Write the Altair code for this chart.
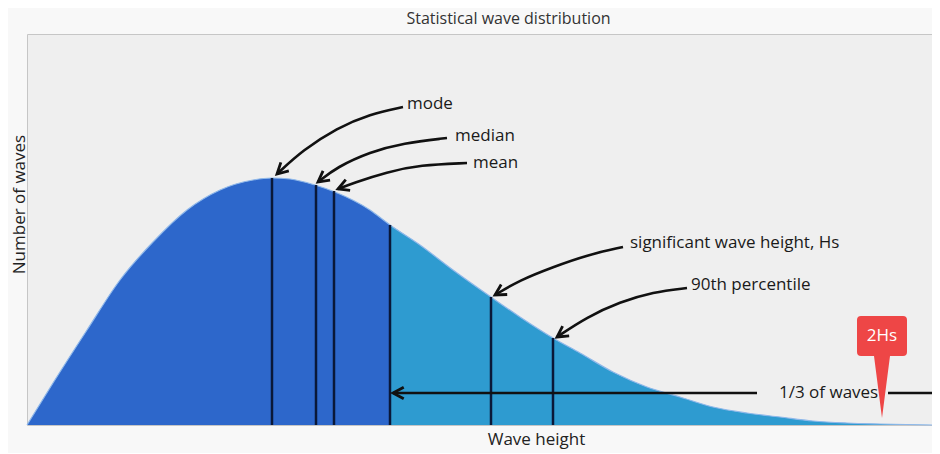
import altair as alt
import pandas as pd

# ---- data (x: wave height, y: number of waves, arbitrary units)
curve_x = [0, 26, 60, 93, 126, 160, 193, 226, 245, 263, 288, 308, 343, 363,
           393, 426, 464, 493, 526, 553, 586, 620, 653, 686, 720, 753, 786, 820, 853, 905]
curve_y = [0, 42, 95, 145, 183, 215, 235, 245, 247, 246, 240, 233, 215, 200,
           180, 155, 128, 108, 87, 72, 53, 38, 28, 18, 12, 8, 4, 2, 1, 0]
split_x = 363  # start of the highest 1/3 of waves

marker_names = ["mode", "median", "mean", "one third", "Hs", "90th percentile"]
marker_x = [245, 289, 307, 363, 464, 526]
marker_top = [247, 240, 234, 200, 128, 87]

label_text = ["mode", "median", "mean", "significant wave height, Hs", "90th percentile"]
label_x = [380, 428, 446, 603, 664]
label_y = [321, 289, 262, 182, 140]

arrow_paths = {
    "mode": ([376, 343, 310, 276, 250], [318, 311, 297, 275, 251]),
    "median": ([420, 376, 343, 310, 291], [287, 282, 273, 258, 243]),
    "mean": ([440, 393, 360, 326, 311], [262, 260, 253, 242, 236]),
    "Hs": ([596, 560, 526, 493, 468], [178, 170, 158, 145, 130]),
    "p90": ([660, 626, 593, 560, 530], [137, 133, 123, 108, 88]),
    "third_a": ([366, 730], [32, 32]),
    "third_b": ([861, 905], [32, 32]),
}
head_x = [250, 291, 311, 468, 530, 366]
head_y = [251, 243, 236, 130, 88, 32]
head_angle = [227, 233, 248, 239, 236, 270]

third_label = ["1/3 of waves"]
third_label_x = [752]
third_label_y = [32]

hs2_label = ["2Hs"]
hs2_x = [855]
hs2_y = [7]

X_MAX = 905
Y_MAX = 391

# ---- frames
curve = pd.DataFrame({"x": curve_x, "y": curve_y})
dark = curve[curve.x <= split_x]
light = curve[curve.x >= split_x]
markers = pd.DataFrame({"name": marker_names, "x": marker_x, "y": [0] * len(marker_x), "top": marker_top})
labels = pd.DataFrame({"text": label_text, "x": label_x, "y": label_y})
rows = []
for name, (xs, ys) in arrow_paths.items():
    for i, (a, b) in enumerate(zip(xs, ys)):
        rows.append({"arrow": name, "order": i, "x": a, "y": b})
arrows = pd.DataFrame(rows)
heads = pd.DataFrame({"x": head_x, "y": head_y, "angle": head_angle})
third = pd.DataFrame({"text": third_label, "x": third_label_x, "y": third_label_y})
hs2 = pd.DataFrame({"text": hs2_label, "x": hs2_x, "y": hs2_y})

FONT = "Open Sans"
xscale = alt.Scale(domain=[0, X_MAX], nice=False, zero=False)
yscale = alt.Scale(domain=[0, Y_MAX], nice=False, zero=False)
xaxis = alt.Axis(title="Wave height", domain=False, ticks=False, labels=False, grid=False,
                 titleX=509, titleY=14, titleFontSize=17, titleFont=FONT,
                 titleFontWeight="normal", titleColor="#222222",
                 titleBaseline="middle", titleAlign="center")
yaxis = alt.Axis(title="Number of waves", domain=False, ticks=False, labels=False, grid=False,
                 titleX=-8, titleY=170, titleAngle=-90, titleFontSize=17, titleFont=FONT,
                 titleFontWeight="normal", titleColor="#222222",
                 titleBaseline="middle", titleAlign="center")


def X(f="x"):
    return alt.X(f, type="quantitative", scale=xscale, axis=xaxis)


def Y(f="y"):
    return alt.Y(f, type="quantitative", scale=yscale, axis=yaxis)


area_dark = alt.Chart(dark).mark_area(interpolate="monotone", color="#2d67cb").encode(x=X(), y=Y())
area_light = alt.Chart(light).mark_area(interpolate="monotone", color="#2e9bd0").encode(x=X(), y=Y())
edge = alt.Chart(curve).mark_line(interpolate="monotone", color="#8fb8ea", strokeWidth=1.2).encode(x=X(), y=Y())

rules = alt.Chart(markers).mark_rule(color="#0a1838", strokeWidth=2.5).encode(
    x=X(), y=Y(), y2=alt.Y2("top"))

arrow_lines = alt.Chart(arrows).mark_line(interpolate="basis", color="#111111", strokeWidth=2.6).encode(
    x=X(), y=Y(), detail="arrow:N", order="order:Q")

arrow_heads = alt.Chart(heads).mark_point(
    shape="M-0.6,1.1 L0,0 L0.6,1.1", filled=False, color="#111111",
    strokeWidth=2.8, size=380, opacity=1).encode(
    x=X(), y=Y(), angle=alt.Angle("angle:Q", scale=None))

label_marks = alt.Chart(labels).mark_text(
    align="left", baseline="middle", fontSize=17, font=FONT, color="#1a1a1a").encode(
    x=X(), y=Y(), text="text:N")

third_text = alt.Chart(third).mark_text(
    align="left", baseline="middle", fontSize=17, font=FONT, color="#1a1a1a").encode(
    x=X(), y=Y(), text="text:N")

pin_path = ("M0,0 L-0.8,-6.2 L-2.1,-6.2 Q-2.5,-6.2 -2.5,-6.6 L-2.5,-9.8 Q-2.5,-10.2 -2.1,-10.2 "
            "L2.1,-10.2 Q2.5,-10.2 2.5,-9.8 L2.5,-6.6 Q2.5,-6.2 2.1,-6.2 L0.8,-6.2 Z")
pin = alt.Chart(hs2).mark_point(shape=pin_path, filled=True, color="#ee4646",
                                size=400, opacity=1, strokeWidth=0).encode(x=X(), y=Y())
pin_text = alt.Chart(hs2).mark_text(dy=-82, fontSize=17, font=FONT, color="white",
                                    align="center", baseline="middle").encode(
    x=X(), y=Y(), text="text:N")

chart = alt.layer(
    area_dark, area_light, edge, rules, arrow_lines, arrow_heads,
    label_marks, third_text, pin, pin_text
).properties(
    width=905, height=391,
    title=alt.TitleParams("Statistical wave distribution", fontSize=16, font=FONT,
                          fontWeight="normal", color="#333333", anchor="middle",
                          dx=29, offset=-6, baseline="alphabetic"),
    autosize=alt.AutoSizeParams(type="none"),
    padding={"left": 19, "top": 26, "right": 0, "bottom": 28},
    background="#f8f8f8",
).configure_view(fill="#efefef", stroke="#c6c6c6", strokeWidth=1)

chart.save("out.html", embed_options={"renderer": "svg", "actions": False})
